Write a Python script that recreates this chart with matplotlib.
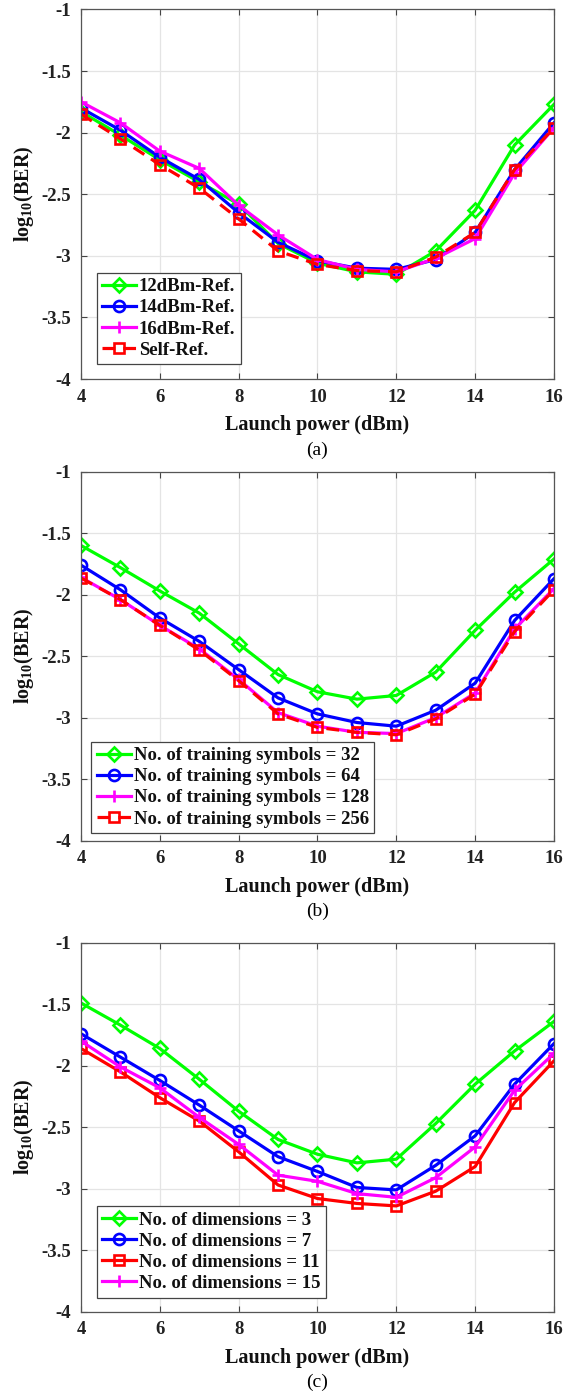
import matplotlib
matplotlib.use("Agg")
import matplotlib.pyplot as plt
import numpy as np

launch_power = [4, 5, 6, 7, 8, 9, 10, 11, 12, 13, 14, 15, 16]

# Panel (a)
a_12dbm = [-1.83, -2.02, -2.22, -2.40, -2.58, -2.90, -3.06, -3.13, -3.15, -2.96, -2.63, -2.10, -1.77]
a_14dbm = [-1.80, -1.98, -2.20, -2.38, -2.65, -2.89, -3.04, -3.10, -3.11, -3.03, -2.81, -2.30, -1.92]
a_16dbm = [-1.75, -1.92, -2.15, -2.29, -2.59, -2.83, -3.03, -3.11, -3.13, -3.02, -2.86, -2.33, -1.96]
a_self = [-1.85, -2.05, -2.26, -2.45, -2.70, -2.96, -3.07, -3.12, -3.13, -3.01, -2.81, -2.30, -1.96]
a_labels = ["12dBm-Ref.", "14dBm-Ref.", "16dBm-Ref.", "Self-Ref."]

# Panel (b)
b_32 = [-1.60, -1.78, -1.97, -2.15, -2.40, -2.65, -2.79, -2.85, -2.82, -2.63, -2.29, -1.98, -1.71]
b_64 = [-1.76, -1.96, -2.19, -2.38, -2.61, -2.84, -2.97, -3.04, -3.07, -2.94, -2.72, -2.21, -1.87]
b_128 = [-1.86, -2.04, -2.25, -2.44, -2.69, -2.96, -3.07, -3.12, -3.13, -3.00, -2.80, -2.28, -1.95]
b_256 = [-1.865, -2.04, -2.25, -2.45, -2.70, -2.97, -3.08, -3.12, -3.14, -3.01, -2.81, -2.30, -1.96]
b_labels = ["No. of training symbols = 32", "No. of training symbols = 64",
            "No. of training symbols = 128", "No. of training symbols = 256"]

# Panel (c)
c_3 = [-1.49, -1.67, -1.86, -2.11, -2.37, -2.60, -2.72, -2.79, -2.76, -2.47, -2.15, -1.88, -1.64]
c_7 = [-1.74, -1.93, -2.12, -2.32, -2.53, -2.74, -2.86, -2.99, -3.01, -2.81, -2.57, -2.15, -1.82]
c_11 = [-1.86, -2.05, -2.26, -2.45, -2.70, -2.97, -3.08, -3.12, -3.14, -3.02, -2.82, -2.30, -1.96]
c_15 = [-1.80, -2.01, -2.18, -2.42, -2.64, -2.89, -2.94, -3.04, -3.07, -2.91, -2.66, -2.20, -1.90]
c_labels = ["No. of dimensions = 3", "No. of dimensions = 7",
            "No. of dimensions = 11", "No. of dimensions = 15"]

xticks = [4, 6, 8, 10, 12, 14, 16]
yticks = [-4, -3.5, -3, -2.5, -2, -1.5, -1]
yticklabels = ["-4", "-3.5", "-3", "-2.5", "-2", "-1.5", "-1"]

plt.rcParams['font.family'] = ['Liberation Serif', 'DejaVu Serif']
plt.rcParams['mathtext.fontset'] = 'custom'
plt.rcParams['mathtext.rm'] = 'Liberation Serif'
plt.rcParams['mathtext.bf'] = 'Liberation Serif:bold'

GREEN = '#00ff00'
BLUE = '#0000ff'
MAG = '#ff00ff'
RED = '#ff0000'

fig = plt.figure(figsize=(5.76, 13.96), dpi=100)

axes_pos = [
    [0.1406, 0.7285, 0.8212, 0.2647],
    [0.1406, 0.3979, 0.8212, 0.2642],
    [0.1406, 0.0604, 0.8212, 0.2643],
]
legend_anchor = [(0.033, 0.04), (0.022, 0.02), (0.033, 0.038)]

styles_a = [
    dict(color=GREEN, marker='D', ls='-', mfc='none', ms=7),
    dict(color=BLUE, marker='o', ls='-', mfc='none', ms=8),
    dict(color=MAG, marker='+', ls='-', mfc='none', ms=9),
    dict(color=RED, marker='s', ls=(0, (4, 2.5)), mfc='none', ms=6.5),
]
styles_c = [
    dict(color=GREEN, marker='D', ls='-', mfc='none', ms=7),
    dict(color=BLUE, marker='o', ls='-', mfc='none', ms=8),
    dict(color=RED, marker='s', ls='-', mfc='none', ms=6.5),
    dict(color=MAG, marker='+', ls='-', mfc='none', ms=9),
]

panels = [
    (a_labels, [a_12dbm, a_14dbm, a_16dbm, a_self], styles_a, "(a)"),
    (b_labels, [b_32, b_64, b_128, b_256], styles_a, "(b)"),
    (c_labels, [c_3, c_7, c_11, c_15], styles_c, "(c)"),
]

for pos, anchor, (labels, series, styles, tag) in zip(axes_pos, legend_anchor, panels):
    ax = fig.add_axes(pos)
    for lab, ys, st in zip(labels, series, styles):
        ax.plot(launch_power, ys, label=lab, lw=2.3, mew=1.9, **st)
    ax.set_xlim(4, 16)
    ax.set_ylim(-4, -1)
    ax.set_xticks(xticks)
    ax.set_yticks(yticks)
    ax.set_yticklabels(yticklabels)
    ax.grid(True, color='#e4e4e4', lw=0.9)
    ax.set_axisbelow(True)
    ax.tick_params(direction='in', top=True, right=True, length=4, width=0.8,
                   labelsize=13.5, colors='#444444', pad=7)
    for lbl in ax.get_xticklabels() + ax.get_yticklabels():
        lbl.set_fontweight('bold')
        lbl.set_color('#222222')
    for sp in ax.spines.values():
        sp.set_color('#555555')
        sp.set_linewidth(0.9)
    ax.set_xlabel("Launch power (dBm)", fontsize=14.5, fontweight='bold', labelpad=7,
                  color='#111111')
    ax.set_ylabel(r"$\mathbf{log_{10}(BER)}$", fontsize=14.5, labelpad=4, color='#111111')
    leg = ax.legend(loc='lower left', bbox_to_anchor=anchor, fancybox=False,
                    framealpha=1, edgecolor='#444444', handlelength=1.8,
                    handletextpad=0.15, borderpad=0.3, labelspacing=0.21,
                    borderaxespad=0.0, prop={'weight': 'bold', 'size': 13.5})
    leg.get_frame().set_linewidth(0.9)
    for t in leg.get_texts():
        t.set_color('#111111')
    ax.annotate(tag, xy=(0.5, 0), xycoords='axes fraction', xytext=(0, -51),
                textcoords='offset points', ha='center', va='center', fontsize=14)

fig.savefig("out.png", dpi=100)
